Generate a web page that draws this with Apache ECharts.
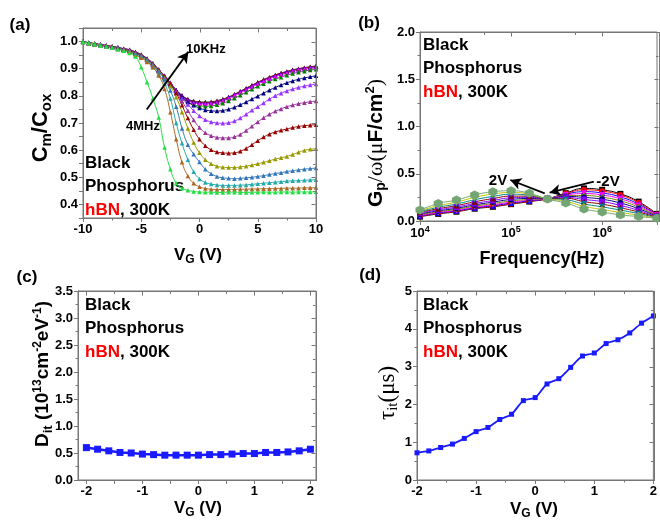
<!DOCTYPE html>
<html>
<head>
<meta charset="utf-8">
<title>Black Phosphorus / hBN</title>
<script src="https://cdn.jsdelivr.net/npm/echarts@6.0.0/dist/echarts.min.js"></script>
<style>
  html, body { margin: 0; padding: 0; background: #fff; }
  #wrap { position: relative; width: 660px; height: 524px; }
  #chart { width: 660px; height: 524px; }
  .frame { position: absolute; box-sizing: border-box; border-top: 1px solid #777; border-right: 1px solid #777; pointer-events: none; }
</style>
</head>
<body>
<div id="wrap"><div id="chart"></div></div>
<script>
// ---------------- (a) Cm/Cox vs VG, 10KHz (top) ... 4MHz (bottom)
const vgA = [-10,-9.5,-9,-8.5,-8,-7.5,-7,-6.5,-6,-5.5,-5,-4.5,-4,-3.5,-3,-2.5,-2,-1.5,-1,-0.5,0,0.5,1,1.5,2,2.5,3,3.5,4,4.5,5,5.5,6,6.5,7,7.5,8,8.5,9,9.5,10];
const cv10k = [1.000,0.996,0.992,0.989,0.986,0.982,0.978,0.974,0.970,0.962,0.952,0.938,0.920,0.897,0.872,0.846,0.822,0.802,0.788,0.781,0.778,0.777,0.778,0.782,0.788,0.796,0.806,0.817,0.828,0.839,0.850,0.860,0.869,0.877,0.884,0.890,0.896,0.900,0.904,0.907,0.910];
const cv20k = [0.998,0.995,0.993,0.988,0.985,0.983,0.977,0.973,0.969,0.961,0.951,0.936,0.918,0.895,0.870,0.845,0.821,0.800,0.786,0.779,0.776,0.775,0.776,0.780,0.786,0.795,0.805,0.816,0.827,0.838,0.849,0.859,0.868,0.876,0.883,0.889,0.895,0.899,0.903,0.906,0.909];
const cv30k = [0.999,0.996,0.991,0.989,0.985,0.981,0.978,0.973,0.969,0.960,0.950,0.935,0.917,0.894,0.869,0.844,0.820,0.799,0.785,0.777,0.774,0.773,0.774,0.778,0.784,0.793,0.803,0.814,0.825,0.836,0.847,0.857,0.866,0.874,0.881,0.887,0.893,0.897,0.901,0.904,0.907];
const cv50k = [0.999,0.995,0.992,0.988,0.985,0.981,0.977,0.973,0.969,0.959,0.949,0.934,0.916,0.893,0.868,0.843,0.818,0.797,0.782,0.774,0.771,0.770,0.771,0.775,0.781,0.790,0.800,0.811,0.822,0.833,0.844,0.854,0.863,0.871,0.878,0.884,0.890,0.894,0.898,0.901,0.904];
const cv100k = [0.999,0.995,0.992,0.988,0.984,0.981,0.977,0.972,0.968,0.958,0.948,0.933,0.914,0.891,0.866,0.840,0.814,0.792,0.776,0.767,0.763,0.762,0.763,0.767,0.773,0.781,0.791,0.802,0.813,0.824,0.835,0.845,0.854,0.862,0.869,0.876,0.882,0.887,0.891,0.895,0.898];
const cv200k = [0.999,0.995,0.991,0.988,0.984,0.980,0.976,0.972,0.968,0.958,0.949,0.935,0.917,0.896,0.875,0.848,0.820,0.796,0.778,0.765,0.755,0.748,0.745,0.744,0.746,0.751,0.758,0.767,0.777,0.788,0.799,0.810,0.821,0.831,0.840,0.848,0.855,0.861,0.866,0.870,0.874];
const cv300k = [0.999,0.995,0.991,0.987,0.984,0.980,0.976,0.971,0.967,0.958,0.949,0.935,0.917,0.895,0.873,0.848,0.818,0.790,0.768,0.745,0.726,0.712,0.704,0.700,0.699,0.701,0.707,0.718,0.732,0.747,0.760,0.774,0.788,0.800,0.810,0.818,0.825,0.831,0.836,0.840,0.844];
const cv500k = [0.999,0.995,0.991,0.987,0.983,0.979,0.975,0.971,0.967,0.957,0.948,0.934,0.916,0.895,0.872,0.847,0.815,0.780,0.745,0.711,0.683,0.664,0.653,0.647,0.645,0.645,0.649,0.658,0.672,0.688,0.704,0.719,0.732,0.743,0.752,0.760,0.766,0.771,0.775,0.778,0.781];
const cv700k = [0.999,0.995,0.991,0.987,0.983,0.979,0.975,0.970,0.966,0.957,0.948,0.934,0.915,0.894,0.870,0.845,0.810,0.765,0.718,0.675,0.640,0.616,0.601,0.593,0.590,0.589,0.590,0.596,0.606,0.620,0.635,0.648,0.659,0.667,0.673,0.678,0.683,0.687,0.690,0.692,0.694];
const cv1m = [0.999,0.995,0.990,0.987,0.983,0.979,0.974,0.970,0.965,0.956,0.947,0.933,0.914,0.892,0.866,0.835,0.795,0.740,0.680,0.628,0.590,0.565,0.550,0.541,0.537,0.536,0.536,0.538,0.541,0.545,0.550,0.555,0.561,0.567,0.572,0.577,0.584,0.592,0.599,0.603,0.605];
const cv1m5 = [0.999,0.995,0.990,0.986,0.982,0.978,0.974,0.969,0.965,0.955,0.946,0.931,0.911,0.888,0.860,0.820,0.760,0.680,0.620,0.585,0.556,0.530,0.513,0.503,0.498,0.496,0.495,0.496,0.498,0.500,0.503,0.506,0.510,0.514,0.517,0.521,0.524,0.527,0.530,0.532,0.534];
const cv2m = [0.998,0.995,0.990,0.986,0.982,0.978,0.973,0.969,0.964,0.953,0.943,0.928,0.906,0.880,0.845,0.790,0.700,0.625,0.565,0.520,0.494,0.481,0.475,0.472,0.470,0.470,0.470,0.471,0.472,0.474,0.476,0.478,0.480,0.482,0.484,0.486,0.487,0.488,0.489,0.490,0.491];
const cv3m = [0.998,0.994,0.990,0.986,0.982,0.977,0.973,0.968,0.963,0.950,0.940,0.925,0.905,0.875,0.825,0.740,0.640,0.555,0.505,0.478,0.465,0.459,0.456,0.455,0.455,0.455,0.455,0.456,0.456,0.457,0.457,0.458,0.458,0.459,0.459,0.460,0.460,0.460,0.461,0.461,0.462];
const cv4m = [0.998,0.994,0.990,0.985,0.981,0.977,0.972,0.966,0.958,0.945,0.905,0.850,0.790,0.720,0.610,0.530,0.478,0.460,0.452,0.448,0.446,0.445,0.445,0.444,0.444,0.445,0.445,0.444,0.444,0.445,0.445,0.446,0.445,0.445,0.446,0.446,0.445,0.446,0.446,0.446,0.447];
const cvNames = ['10KHz','20KHz','30KHz','50KHz','100KHz','200KHz','300KHz','500KHz','700KHz','1MHz','1.5MHz','2MHz','3MHz','4MHz'];
const cvCurves = [cv10k, cv20k, cv30k, cv50k, cv100k, cv200k, cv300k, cv500k, cv700k, cv1m, cv1m5, cv2m, cv3m, cv4m];

// ---------------- (b) Gp/w vs frequency, -2V ... 2V
const freqB = [1e4, 1.585e4, 2.512e4, 3.981e4, 6.31e4, 1e5, 1.585e5, 2.512e5, 3.981e5, 6.31e5, 1e6, 1.585e6, 2.512e6, 3.981e6];
const gpN20 = [0.046,0.075,0.098,0.130,0.150,0.178,0.205,0.235,0.295,0.345,0.330,0.287,0.205,0.075];
const gpN16 = [0.050,0.080,0.102,0.135,0.155,0.182,0.208,0.235,0.290,0.330,0.316,0.274,0.193,0.070];
const gpN12 = [0.055,0.085,0.108,0.140,0.162,0.190,0.213,0.236,0.283,0.310,0.296,0.255,0.178,0.065];
const gpN08 = [0.060,0.090,0.115,0.148,0.172,0.200,0.220,0.236,0.275,0.290,0.275,0.235,0.163,0.060];
const gpN04 = [0.067,0.098,0.124,0.158,0.185,0.212,0.228,0.236,0.268,0.270,0.252,0.213,0.147,0.055];
const gpZ00 = [0.075,0.107,0.135,0.170,0.200,0.228,0.238,0.236,0.260,0.250,0.230,0.190,0.130,0.050];
const gpP04 = [0.083,0.118,0.148,0.185,0.217,0.245,0.250,0.236,0.250,0.228,0.205,0.165,0.112,0.045];
const gpP08 = [0.092,0.130,0.163,0.203,0.237,0.263,0.262,0.236,0.240,0.205,0.178,0.140,0.095,0.040];
const gpP12 = [0.100,0.145,0.180,0.225,0.260,0.283,0.274,0.236,0.225,0.180,0.150,0.115,0.078,0.036];
const gpP16 = [0.108,0.162,0.200,0.250,0.285,0.302,0.285,0.235,0.208,0.155,0.122,0.090,0.062,0.032];
const gpP20 = [0.116,0.185,0.222,0.275,0.310,0.320,0.293,0.232,0.190,0.128,0.095,0.065,0.047,0.029];
const gpNames = ['-2.0V','-1.6V','-1.2V','-0.8V','-0.4V','0V','0.4V','0.8V','1.2V','1.6V','2.0V'];
const gpCurves = [gpN20, gpN16, gpN12, gpN08, gpN04, gpZ00, gpP04, gpP08, gpP12, gpP16, gpP20];

// ---------------- (c) Dit vs VG and (d) tau_it vs VG
const vgCD = [-2,-1.8,-1.6,-1.4,-1.2,-1,-0.8,-0.6,-0.4,-0.2,0,0.2,0.4,0.6,0.8,1,1.2,1.4,1.6,1.8,2];
const ditC = [0.60,0.57,0.54,0.51,0.50,0.48,0.47,0.46,0.46,0.46,0.46,0.47,0.47,0.48,0.49,0.49,0.51,0.51,0.52,0.54,0.57];
const tauD = [0.72,0.77,0.86,0.95,1.10,1.28,1.39,1.60,1.74,2.10,2.18,2.54,2.68,2.98,3.28,3.36,3.61,3.71,3.89,4.15,4.34];

// ---------------- axis ranges and frame (top / right) ticks
const rangeX = [[-10, 10], [1e4, 4e6], [-2.15, 2.1], [-2, 2]];
const rangeY = [[0.35, 1.05], [0, 2], [0, 3.5], [0, 5]];
const topMajor = [[-10,-5,0,5,10], [1e4,1e5,1e6], [-2,-1,0,1,2], [-2,-1,0,1,2]];
const topMinor = [[-7.5,-2.5,2.5,7.5], [5e4,5e5], [-1.5,-0.5,0.5,1.5], [-1.5,-0.5,0.5,1.5]];
const rightMajor = [[0.4,0.5,0.6,0.7,0.8,0.9,1.0], [0.5,1,1.5], [0.5,1,1.5,2,2.5,3], [1,2,3,4]];
const rightMinor = [[0.45,0.55,0.65,0.75,0.85,0.95], [0.25,0.75,1.25,1.75], [0.25,0.75,1.25,1.75,2.25,2.75,3.25], [0.5,1.5,2.5,3.5,4.5]];

// ---------------- styles
const FONT = '"Liberation Sans", Arial, sans-serif';
const SERIF = '"Liberation Serif", "Times New Roman", serif';
const GRAY = '#777777';
const colorsA = ['#000000','#ff0000','#0000ff','#ff00ff','#008000','#000080','#9933ff','#993399','#990000','#999900','#3377bb','#22aaaa','#aa6622','#22dd44'];
const colorsB = ['#000000','#ff0000','#0000ff','#ff00ff','#808000','#000080','#8000ff','#800000','#008080','#c0c000','#74a674'];
const triDown = 'path://M0,0 L10,0 L5,9 Z';
const hexagon = 'path://M5,0 L10,2.9 L10,8.7 L5,11.5 L0,8.7 L0,2.9 Z';
const symbolsB = ['rect','circle','triangle',triDown,'diamond','circle','rect','triangle',triDown,'diamond',hexagon];

function axis(grid, pos, range, extra) {
    const ax = {
        gridIndex: grid, position: pos, type: 'value', min: range[0], max: range[1],
        axisLine: { show: true, onZero: false, lineStyle: { color: GRAY, width: 1 } },
        axisTick: { show: true, inside: false, length: 4, lineStyle: { color: GRAY } },
        minorTick: { show: true, splitNumber: 2, length: 2.5, lineStyle: { color: GRAY } },
        axisLabel: { color: '#000', fontFamily: FONT, fontWeight: 'bold', fontSize: 13, margin: 5 },
        splitLine: { show: false }
    };
    extra = extra || {};
    Object.keys(extra).forEach(k => {
        if (typeof extra[k] === 'object' && !Array.isArray(extra[k]) && ax[k]) Object.assign(ax[k], extra[k]);
        else ax[k] = extra[k];
    });
    return ax;
}

const fmt1 = v => v.toFixed(1);
const yHalf = v => (Math.round(v * 100) % 10 === 0 ? v.toFixed(1) : '');
const logLabel = v => {
    const e = Math.log10(v);
    if (Math.abs(e - Math.round(e)) > 1e-6) return '';
    return '{b|10}{u|' + Math.round(e) + '}';
};
const logRich = {
    b: { fontFamily: FONT, fontWeight: 'bold', fontSize: 13, color: '#000', lineHeight: 16 },
    u: { fontFamily: FONT, fontWeight: 'bold', fontSize: 9, color: '#000', lineHeight: 6, verticalAlign: 'top' }
};

const xAxes = [
    axis(0, 'bottom', rangeX[0], { interval: 5 }),
    axis(1, 'bottom', rangeX[1], { type: 'log', logBase: 10, minorTick: { show: false }, axisLabel: { formatter: logLabel, rich: logRich, margin: 4 } }),
    axis(2, 'bottom', rangeX[2], { minorTick: { show: false }, axisTick: { customValues: [-2,-1.5,-1,-0.5,0,0.5,1,1.5,2] }, axisLabel: { customValues: [-2,-1,0,1,2] } }),
    axis(3, 'bottom', rangeX[3], { interval: 1 })
];
const yAxes = [
    axis(0, 'left', rangeY[0], { interval: 0.05, minorTick: { show: false }, axisLabel: { formatter: yHalf } }),
    axis(1, 'left', rangeY[1], { interval: 0.5, axisLabel: { formatter: fmt1 } }),
    axis(2, 'left', rangeY[2], { interval: 0.5, axisLabel: { formatter: fmt1 } }),
    axis(3, 'left', rangeY[3], { interval: 1 })
];

const arrowLine = (pairs) => ({
    silent: true, symbol: ['none', 'arrow'], symbolSize: [9, 11],
    lineStyle: { color: '#000', width: 1.8, type: 'solid' },
    label: { show: false }, emphasis: { disabled: true },
    data: pairs.map(p => [{ coord: p[0] }, { coord: p[1] }])
});

const series = [];
cvCurves.forEach((vals, i) => {
    series.push({
        name: cvNames[i], type: 'line', xAxisIndex: 0, yAxisIndex: 0,
        data: vgA.map((v, j) => [v, vals[j]]),
        smooth: true, symbol: 'triangle', symbolSize: 4.5, showSymbol: true,
        lineStyle: { color: colorsA[i], width: 1 },
        itemStyle: { color: colorsA[i] },
        markLine: i === 0 ? arrowLine([[[-4.53, 0.75], [-0.96, 0.962]]]) : undefined
    });
});
gpCurves.forEach((vals, i) => {
    const last = i === gpCurves.length - 1;
    series.push({
        name: gpNames[i], type: 'line', xAxisIndex: 1, yAxisIndex: 1,
        data: freqB.map((f, j) => [f, vals[j]]),
        smooth: true, symbol: symbolsB[i], symbolSize: last ? 9 : 6,
        lineStyle: { color: colorsB[i], width: 1 },
        itemStyle: { color: colorsB[i] },
        markLine: last ? arrowLine([[[2.34e5, 0.293], [9.8e4, 0.434]], [[8.1e5, 0.416], [2.65e5, 0.30]]]) : undefined
    });
});
series.push({
    name: 'Dit', type: 'line', xAxisIndex: 2, yAxisIndex: 2,
    data: vgCD.map((v, j) => [v, ditC[j]]),
    symbol: 'rect', symbolSize: 7,
    lineStyle: { color: '#1a1aff', width: 2.5 }, itemStyle: { color: '#1a1aff' }
});
series.push({
    name: 'tau', type: 'line', xAxisIndex: 3, yAxisIndex: 3,
    data: vgCD.map((v, j) => [v, tauD[j]]),
    smooth: 0.3, symbol: 'rect', symbolSize: 5,
    lineStyle: { color: '#1a1aff', width: 1.8 }, itemStyle: { color: '#1a1aff' }
});

// ---------------- texts
function rich(size) {
    return {
        b: { fontFamily: FONT, fontWeight: 'bold', fontSize: size, lineHeight: size + 4, fill: '#000' },
        s: { fontFamily: FONT, fontWeight: 'bold', fontSize: Math.round(size * 0.68), lineHeight: 6, verticalAlign: 'bottom', fill: '#000' },
        u: { fontFamily: FONT, fontWeight: 'bold', fontSize: Math.round(size * 0.62), lineHeight: 6, verticalAlign: 'top', fill: '#000' },
        g: { fontFamily: SERIF, fontSize: size + 1, lineHeight: size + 4, fill: '#000' },
        gs: { fontFamily: SERIF, fontSize: Math.round(size * 0.7), lineHeight: 6, verticalAlign: 'bottom', fill: '#000' }
    };
}
function label(x, y, text, size, rot) {
    return {
        type: 'text', x: x, y: y, rotation: rot ? Math.PI / 2 : 0, silent: true,
        style: { text: text, rich: rich(size), align: 'center', verticalAlign: 'middle' }
    };
}
function plain(x, y, text, size, align, color) {
    return {
        type: 'text', x: x, y: y, silent: true,
        style: { text: text, font: 'bold ' + size + 'px ' + FONT, fill: color || '#000', align: align || 'left', verticalAlign: 'middle' }
    };
}
function sample(x, y) {
    return [
        plain(x, y, 'Black', 17),
        plain(x, y + 23.5, 'Phosphorus', 17),
        plain(x, y + 47, 'hBN', 17, 'left', '#ff0000'),
        plain(x + 35, y + 47, ', 300K', 17)
    ];
}

const texts = [
    plain(20, 25, '(a)', 17, 'center'),
    plain(369, 23, '(b)', 17, 'center'),
    plain(27, 277, '(c)', 17, 'center'),
    plain(370, 275, '(d)', 17, 'center'),
    ...sample(85, 163),
    ...sample(423, 45),
    ...sample(85, 305),
    ...sample(423, 305),
    plain(186, 49, '10KHz', 13),
    plain(143, 126, '4MHz', 13, 'center'),
    plain(498, 181, '2V', 15, 'center'),
    plain(608, 182, '-2V', 15, 'center'),
    label(41, 128, '{b|C}{s|m}{b|/C}{s|ox}', 22, true),
    label(198, 255, '{b|V}{s|G}{b| (V)}', 17),
    label(376, 143, '{b|G}{s|p}{g|/ω(μ}{b|F/cm}{u|2}{g|)}', 21, true),
    label(542, 259, '{b|Frequency(Hz)}', 18),
    label(43, 374, '{b|D}{s|it}{b| (10}{u|13}{b|cm}{u|-2}{b|eV}{u|-1}{b|)}', 19, true),
    label(198, 508, '{b|V}{s|G}{b| (V)}', 17),
    label(388, 393, '{g|τ}{gs|it}{g|(μs)}', 22, true),
    label(534, 509, '{b|V}{s|G}{b| (V)}', 17)
];

const gridRects = [
    { left: 83, top: 28, width: 233, height: 190 },
    { left: 420, top: 32, width: 239, height: 189 },
    { left: 78, top: 291, width: 238, height: 189 },
    { left: 417, top: 291, width: 237, height: 189 }
];

const chart = echarts.init(document.getElementById('chart'), null, { renderer: 'canvas' });
chart.setOption({
    animation: false,
    grid: gridRects.map(r => Object.assign({ show: true, borderColor: GRAY, borderWidth: 1 }, r)),
    xAxis: xAxes,
    yAxis: yAxes,
    series: series
});

// inward ticks on top / right edges, placed through the axes' own scales
const ticks = [];
const seg = (x1, y1, x2, y2) => ({
    type: 'line', silent: true, z: 50,
    shape: { x1: x1, y1: y1, x2: x2, y2: y2 },
    style: { stroke: GRAY, lineWidth: 1 }
});
gridRects.forEach((r, g) => {
    const finder = { xAxisIndex: g, yAxisIndex: g };
    const T = r.top + 0.5, R = Math.min(r.left + r.width, 659) - 0.5;
    const px = v => { const p = chart.convertToPixel(finder, [v, rangeY[g][0]]); return p ? Math.round(p[0]) + 0.5 : null; };
    const py = v => { const p = chart.convertToPixel(finder, [rangeX[g][0], v]); return p ? Math.round(p[1]) + 0.5 : null; };
    topMajor[g].forEach(v => { const x = px(v); if (x != null && isFinite(x)) ticks.push(seg(x, T, x, T + 4)); });
    topMinor[g].forEach(v => { const x = px(v); if (x != null && isFinite(x)) ticks.push(seg(x, T, x, T + 2.5)); });
    rightMajor[g].forEach(v => { const y = py(v); if (y != null && isFinite(y)) ticks.push(seg(R, y, R - 4, y)); });
    rightMinor[g].forEach(v => { const y = py(v); if (y != null && isFinite(y)) ticks.push(seg(R, y, R - 2.5, y)); });

    // top / right frame edges as an overlay box over the plot area
    const box = document.createElement('div');
    box.className = 'frame';
    box.style.left = r.left + 'px';
    box.style.top = r.top + 'px';
    box.style.width = (Math.min(r.left + r.width, 660) - r.left + 0.5) + 'px';
    box.style.height = (r.height + 1) + 'px';
    document.getElementById('wrap').appendChild(box);
});
chart.setOption({ graphic: texts.concat(ticks) });
</script>
</body>
</html>
